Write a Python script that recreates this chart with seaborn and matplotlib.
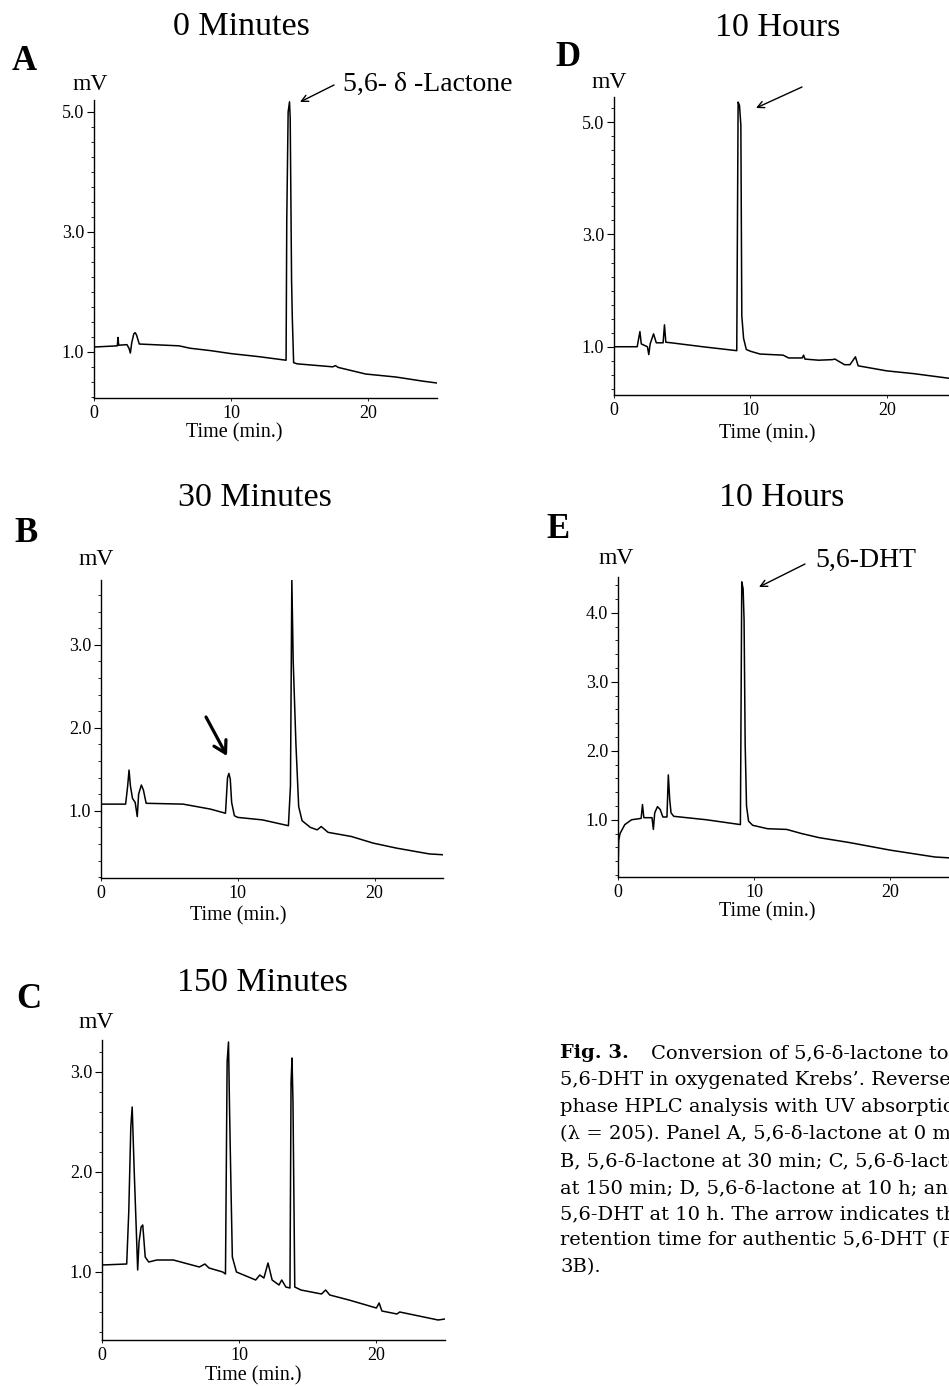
import matplotlib
matplotlib.use("Agg")
import pandas as pd
import matplotlib.pyplot as plt
import seaborn as sns
from matplotlib.patches import FancyArrowPatch
from matplotlib.ticker import MultipleLocator, FormatStrFormatter

# ==========================================
# Chromatogram traces (time in min, signal in mV)
# ==========================================

# A: 0 minutes
a_time = [0, 1.7, 1.75, 1.8, 2.4, 2.55, 2.65, 2.75, 2.9, 3.0, 3.1, 3.3, 6.2, 7.0, 8.5,
          10.0, 12.0, 14.0, 14.05, 14.15, 14.25, 14.3, 14.4, 14.45, 14.55, 14.8,
          17.4, 17.6, 17.8, 19.8, 22.0, 24.0, 25.0]
a_mv = [1.08, 1.10, 1.24, 1.11, 1.12, 1.06, 0.98, 1.15, 1.30, 1.32, 1.28, 1.13, 1.10, 1.06, 1.02,
        0.97, 0.92, 0.86, 3.2, 5.0, 5.17, 4.9, 2.2, 1.6, 0.82, 0.80,
        0.75, 0.77, 0.74, 0.63, 0.58, 0.51, 0.48]

# B: 30 minutes
b_time = [0, 1.8, 1.95, 2.05, 2.15, 2.3, 2.5, 2.65, 2.75, 2.95, 3.1, 3.3, 6.0, 8.0,
          9.1, 9.25, 9.35, 9.45, 9.55, 9.75, 10.0, 11.8, 13.7, 13.85, 13.95, 14.05,
          14.25, 14.45, 14.7, 15.3, 15.8, 16.1, 16.6, 18.3, 19.9, 21.6, 24.0, 25.0]
b_mv = [1.08, 1.08, 1.3, 1.49, 1.3, 1.15, 1.1, 0.93, 1.2, 1.31, 1.25, 1.09, 1.08, 1.02,
        0.97, 1.4, 1.45, 1.38, 1.1, 0.94, 0.92, 0.89, 0.82, 1.3, 3.78, 2.8,
        1.8, 1.05, 0.88, 0.80, 0.77, 0.81, 0.74, 0.69, 0.61, 0.55, 0.48, 0.47]

# C: 150 minutes
c_time = [0, 1.8, 1.95, 2.1, 2.2, 2.35, 2.5, 2.6, 2.7, 2.85, 2.97, 3.15, 3.4, 4.0, 5.2,
          7.1, 7.5, 7.8, 8.8, 9.0, 9.12, 9.22, 9.3, 9.4, 9.5, 9.8, 11.2, 11.5, 11.8,
          12.1, 12.4, 12.9, 13.1, 13.4, 13.7, 13.78, 13.85, 13.92, 14.05, 14.5,
          16.0, 16.3, 16.6, 18.0, 20.0, 20.2, 20.4, 21.5, 21.7, 24.5, 25.0]
c_mv = [1.07, 1.08, 1.6, 2.45, 2.65, 2.0, 1.42, 1.02, 1.3, 1.45, 1.47, 1.15, 1.1, 1.12, 1.12,
        1.05, 1.08, 1.04, 1.0, 0.98, 3.1, 3.3, 2.6, 1.85, 1.15, 1.0, 0.92, 0.97, 0.94,
        1.09, 0.92, 0.87, 0.92, 0.85, 0.84, 2.9, 3.14, 2.7, 0.85, 0.82,
        0.78, 0.82, 0.77, 0.72, 0.64, 0.69, 0.61, 0.58, 0.60, 0.52, 0.53]

# D: 10 hours (5,6-delta-lactone)
d_time = [0, 1.7, 1.9, 2.0, 2.45, 2.55, 2.65, 2.9, 3.1, 3.6, 3.7, 3.8, 4.2, 6.5,
          9.0, 9.1, 9.2, 9.3, 9.37, 9.5, 9.7, 10.0, 10.7, 12.4, 12.8, 13.8, 13.9, 14.0,
          15.0, 16.0, 16.2, 16.9, 17.3, 17.7, 17.9, 20.0, 22.0, 24.5, 25.0]
d_mv = [1.0, 1.0, 1.27, 1.05, 1.0, 0.86, 1.05, 1.23, 1.07, 1.07, 1.39, 1.08, 1.07, 1.0,
        0.93, 5.36, 5.3, 4.95, 1.55, 1.15, 0.95, 0.92, 0.87, 0.85, 0.80, 0.80, 0.85, 0.78,
        0.76, 0.77, 0.78, 0.68, 0.68, 0.82, 0.66, 0.57, 0.52, 0.44, 0.43]

# E: 10 hours (5,6-DHT)
e_time = [0, 0.05, 0.15, 0.5, 1.0, 1.7, 1.8, 1.9, 2.5, 2.6, 2.7, 2.9, 3.1, 3.3, 3.6,
          3.7, 3.8, 3.9, 4.1, 6.5, 9.0, 9.1, 9.2, 9.27, 9.35, 9.45, 9.6, 9.9,
          11.0, 12.4, 13.5, 14.8, 17.0, 20.0, 23.3, 25.0]
e_mv = [0.2, 0.7, 0.8, 0.93, 1.0, 1.02, 1.22, 1.03, 1.03, 0.86, 1.1, 1.19, 1.15, 1.04, 1.04,
        1.65, 1.3, 1.1, 1.05, 1.0, 0.93, 4.45, 4.35, 3.9, 2.1, 1.2, 0.98, 0.92,
        0.87, 0.86, 0.80, 0.74, 0.67, 0.56, 0.46, 0.44]

titles = ["0 Minutes", "30 Minutes", "150 Minutes", "10 Hours", "10 Hours"]
letters = ["A", "B", "C", "D", "E"]
x_ticks = [0, 10, 20]

caption_head = "Fig. 3."
caption_lines = [
    "Conversion of 5,6-\u03b4-lactone to",
    "5,6-DHT in oxygenated Krebs\u2019. Reverse-",
    "phase HPLC analysis with UV absorption",
    "(\u03bb = 205). Panel A, 5,6-\u03b4-lactone at 0 min;",
    "B, 5,6-\u03b4-lactone at 30 min; C, 5,6-\u03b4-lactone",
    "at 150 min; D, 5,6-\u03b4-lactone at 10 h; and E,",
    "5,6-DHT at 10 h. The arrow indicates the",
    "retention time for authentic 5,6-DHT (Fig.",
    "3B).",
]

# ==========================================
# Layout (pixel positions, top-left origin)
# ==========================================

W, H = 949, 1386


def box(left, top, right, bottom):
    return [left / W, 1 - bottom / H, (right - left) / W, (bottom - top) / H]


def fp(x, y):
    return (x / W, 1 - y / H)


panels = [
    dict(t=a_time, v=a_mv, rect=box(94, 100, 437, 398), ylim=(0.23, 5.2), major=[1, 3, 5],
         minor=0.25, title_xy=(241, 27), letter_xy=(24, 62), mv_xy=(90, 84),
         xlab=(0.41, 34)),
    dict(t=b_time, v=b_mv, rect=box(101, 580, 443, 878), ylim=(0.19, 3.78), major=[1, 2, 3],
         minor=0.2, title_xy=(255, 498), letter_xy=(26, 533), mv_xy=(96, 560),
         xlab=(0.40, 37)),
    dict(t=c_time, v=c_mv, rect=box(102, 1040, 445, 1340), ylim=(0.32, 3.32), major=[1, 2, 3],
         minor=0.2, title_xy=(262, 983), letter_xy=(29, 1000), mv_xy=(96, 1022),
         xlab=(0.44, 35)),
    dict(t=d_time, v=d_mv, rect=box(614, 97, 955, 395), ylim=(0.14, 5.45), major=[1, 3, 5],
         minor=0.25, title_xy=(778, 28), letter_xy=(568, 57), mv_xy=(609, 83),
         xlab=(0.45, 38)),
    dict(t=e_time, v=e_mv, rect=box(618, 577, 958, 877), ylim=(0.17, 4.52), major=[1, 2, 3, 4],
         minor=0.2, title_xy=(782, 498), letter_xy=(558, 530), mv_xy=(616, 558),
         xlab=(0.44, 34)),
]

# ==========================================
# Plot
# ==========================================

sns.set_style("ticks")
plt.rcParams["font.family"] = ["Liberation Serif", "DejaVu Serif"]
plt.rcParams["axes.linewidth"] = 1.0
for key in ["text.color", "axes.labelcolor", "xtick.color", "ytick.color", "axes.edgecolor"]:
    plt.rcParams[key] = "black"

fig = plt.figure(figsize=(W / 100, H / 100), dpi=100)

for p, title, letter in zip(panels, titles, letters):
    ax = fig.add_axes(p["rect"])
    df = pd.DataFrame({"time": p["t"], "mv": p["v"]})
    sns.lineplot(data=df, x="time", y="mv", ax=ax, color="black", linewidth=1.1,
                 estimator=None, sort=False)
    ax.set_xlim(0, 25)
    ax.set_ylim(*p["ylim"])
    ax.set_xticks(x_ticks)
    ax.set_yticks(p["major"])
    ax.yaxis.set_minor_locator(MultipleLocator(p["minor"]))
    ax.yaxis.set_major_formatter(FormatStrFormatter("%.1f"))
    ax.tick_params(axis="y", which="major", direction="out", length=5, width=0.8,
                   labelsize=13, pad=2)
    ax.tick_params(axis="y", which="minor", direction="out", length=2.5, width=0.6)
    ax.tick_params(axis="x", direction="out", length=2, width=0.6, labelsize=13, pad=3)
    ax.set_ylabel("")
    ax.set_xlabel("Time (min.)", fontsize=14.5)
    hgt = p["rect"][3] * H
    ax.xaxis.set_label_coords(p["xlab"][0], -(p["xlab"][1] - 9) / hgt)
    sns.despine(ax=ax)
    ax.patch.set_alpha(0)

    fig.text(*fp(*p["title_xy"]), title, fontsize=24.5, ha="center", va="center")
    fig.text(*fp(*p["letter_xy"]), letter, fontsize=25, fontweight="bold",
             ha="center", va="center")
    fig.text(*fp(*p["mv_xy"]), "mV", fontsize=17, ha="center", va="center")

# peak labels and arrows
fig.text(*fp(343, 84), "5,6- \u03b4 -Lactone", fontsize=20, ha="left", va="center")
fig.text(*fp(815, 560), "5,6-DHT", fontsize=20, ha="left", va="center")

thin = dict(arrowstyle="->", color="black", lw=1.0, shrinkA=0, shrinkB=0,
            mutation_scale=12)
thick = dict(arrowstyle="->,head_length=0.6,head_width=0.35", color="black", lw=2.3,
             shrinkA=0, shrinkB=0, mutation_scale=14)
arrows = [((334, 85), (300, 102), thin), ((802, 87), (756, 108), thin),
          ((805, 564), (759, 587), thin), ((206, 717), (227, 756), thick)]
for tail, head, style in arrows:
    fig.add_artist(FancyArrowPatch(fp(*tail), fp(*head), transform=fig.transFigure, **style))

# caption
cap_y = [1053, 1080, 1107, 1134, 1161, 1188, 1214, 1240, 1267]
fig.text(*fp(560, cap_y[0]), caption_head, fontsize=14.0, fontweight="bold",
         family="DejaVu Serif", ha="left", va="center")
for i, (line, y) in enumerate(zip(caption_lines, cap_y)):
    x0 = 651 if i == 0 else 560
    fig.text(*fp(x0, y), line, fontsize=14.0, family="DejaVu Serif", ha="left", va="center")

fig.savefig("out.png", dpi=100)
plt.close(fig)
